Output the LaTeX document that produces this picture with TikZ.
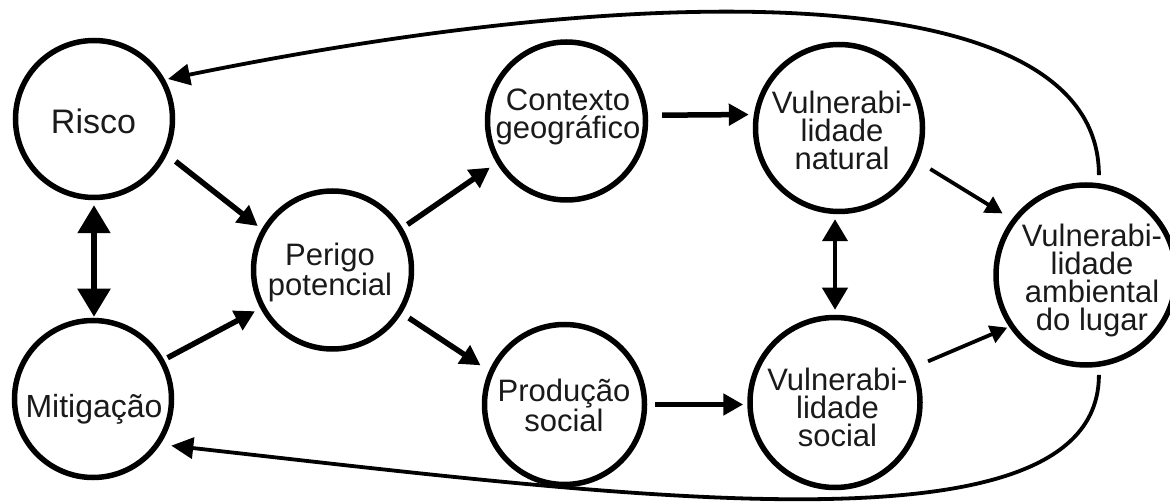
\documentclass[tikz,border=0pt]{standalone}
\usepackage{fontspec}
\setmainfont{Liberation Sans}
\usetikzlibrary{arrows.meta}
\definecolor{ink}{HTML}{1A1A1A}
\begin{document}
\begin{tikzpicture}[x=1pt,y=-1pt,
  circ/.style={circle,draw=black,line width=5.5pt,inner sep=0pt,minimum size=#1},
  txt/.style={font=\fontsize{31}{28}\selectfont,align=center,inner sep=0pt,text=ink},
  arr/.style={line width=5.5pt,-{Triangle[length=20pt,width=21pt]}},
  thinarr/.style={line width=3.8pt,-{Triangle[length=17pt,width=18pt]}},
  fb/.style={line width=3.8pt,-{Triangle[length=22pt,width=21pt]}},
  dblA/.style={line width=5.5pt,{Triangle[length=28pt,width=32pt]}-{Triangle[length=28pt,width=32pt]}},
  dblB/.style={line width=4.2pt,{Triangle[length=22pt,width=25pt]}-{Triangle[length=22pt,width=25pt]}}
]
\useasboundingbox (0,0) rectangle (1170,502);
\fill[white] (0,0) rectangle (1170,502);

% circles
\node[circ=157pt] (Risco) at (94,119) {};
\node[circ=157pt] (Mit) at (93,399) {};
\node[circ=158pt] (Per) at (332.5,270) {};
\node[circ=158pt] (Con) at (566.5,121) {};
\node[circ=160pt] (Pro) at (564.5,404.5) {};
\node[circ=167pt] (VN) at (839,128) {};
\node[circ=170pt] (VS) at (835,402.5) {};
\node[circ=180pt] (VA) at (1086,275) {};

% texts
\node[txt,font=\fontsize{34}{30}\selectfont] (tRisco) at (93.5,121.5) {Risco};
\node[txt,font=\fontsize{32}{28}\selectfont] (tMit) at (94,409) {Mitigação};
\node[txt] (tPer) at (330,272.5) {Perigo\\potencial};
\node[txt] (tCon) at (568,116.5) {Contexto\\geográfico};
\node[txt] (tPro) at (564,405) {Produção\\social};
\node[txt] (tVN) at (842,130) {Vulnerabi-\\lidade\\natural};
\node[txt] (tVS) at (837.5,407.5) {Vulnerabi-\\lidade\\social};
\node[txt] (tVA) at (1092,280) {Vulnerabi-\\lidade\\ambiental\\do lugar};

% connectors
\draw[arr,shorten <=11pt,shorten >=5pt] (Risco.-26.3) -- (Per.150);
\draw[arr,shorten <=4pt,shorten >=6pt] (Mit.29) -- (Per.-152.7);
\draw[dblA,shorten <=5pt,shorten >=1pt] (Risco.south) -- (Risco.south |- Mit.north);
\draw[arr,shorten <=6pt,shorten >=8pt] (Per.31.1) -- (Con.-149);
\draw[arr,shorten <=8.5pt,shorten >=10pt] (Per.-32.4) -- (Pro.156.1);
\draw[arr,shorten <=14pt,shorten >=5pt] (Con.4.2) -- (VN.171.3);
\draw[arr,shorten <=8pt,shorten >=4pt] (Pro.east) -- (Pro.east -| VS.west);
\draw[thinarr,shorten <=14pt,shorten >=11pt] (VN.-23.5) -- (VA.143.2);
\draw[thinarr,shorten <=14pt,shorten >=2pt] (VS.24.7) -- (VA.214.2);
\draw[dblB,shorten <=5pt,shorten >=5pt] (VN.south -| VS.north) -- (VS.north);

% feedback loops
\draw[fb,shorten <=8pt,shorten >=3pt] (VA.82) .. controls (1099,-20) and (668,-23) .. (Risco.29.6);
\draw[fb,shorten <=8pt,shorten >=11pt] (VA.-82) .. controls (1099,560) and (630,497) .. (Mit.-34);
\end{tikzpicture}
\end{document}
